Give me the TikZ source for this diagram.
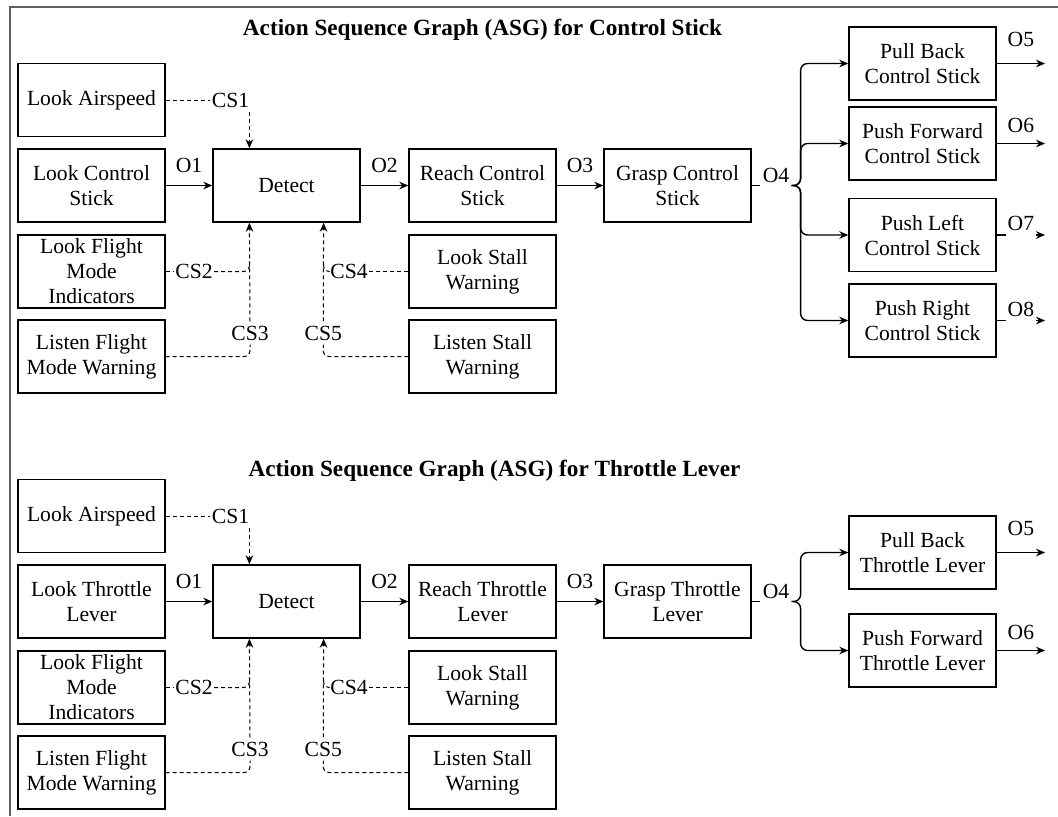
\documentclass[tikz,border=0pt]{standalone}
\usepackage{fontspec}
\setmainfont{Liberation Serif}
\usepackage{xcolor}
\definecolor{framegray}{RGB}{95,95,95}
\usetikzlibrary{arrows.meta,calc}
\tikzset{
  asgbox/.style={draw, line width=0.7pt, minimum width=73.5pt, minimum height=36.5pt,
                 inner sep=1pt, align=center, font=\fontsize{10.8}{12.5}\selectfont},
  flow/.style={-{Stealth[length=4.5pt,width=3.8pt]}, line width=0.7pt},
  cue/.style={line width=0.5pt, dash pattern=on 2pt off 1.5pt, rounded corners=3pt},
  cuetip/.style={cue, -{Stealth[length=4.5pt,width=3.8pt]}},
  lbl/.style={inner sep=1pt, font=\fontsize{10.8}{12.5}\selectfont},
  cslbl/.style={lbl, inner xsep=0.5pt, inner ysep=2pt},
  onlbl/.style={lbl, fill=white, inner xsep=1pt, inner ysep=2.5pt, yshift=5.75pt},
  asgtitle/.style={anchor=base, inner sep=0pt, font=\fontsize{11.6}{14}\selectfont\bfseries}
}

\begin{document}
\begin{tikzpicture}[x=0.5pt, y=-0.5pt]
    \useasboundingbox (0,0) rectangle (1058,816);
    % Frame
    \draw[framegray, line width=0.8pt] (10,816) -- (10,7) -- (1058,7);

    % ---------------- Control stick ----------------
    \node[asgtitle] (title1) at (482.5,35) {Action Sequence Graph (ASG) for Control Stick};
    \node[asgbox] (lookair1) at (91.5,100) {Look Airspeed};
    \node[asgbox] (lookcs1) at (91.5,185.5) {Look Control\\Stick};
    \node[asgbox] (lookfmi1) at (91.5,271.5) {Look Flight\\Mode\\Indicators};
    \node[asgbox] (listenfmw1) at (91.5,356.5) {Listen Flight\\Mode Warning};
    \node[asgbox] (detect1) at (286.5,185.5) {Detect};
    \node[asgbox] (reach1) at (482.5,185.5) {Reach Control\\Stick};
    \node[asgbox] (grasp1) at (677.5,185.5) {Grasp Control\\Stick};
    \node[asgbox] (lookstall1) at (482.5,271.5) {Look Stall\\Warning};
    \node[asgbox] (listenstall1) at (482.5,356.5) {Listen Stall\\Warning};
    \node[asgbox] (pullback1) at (922.5,63.5) {Pull Back\\Control Stick};
    \node[asgbox] (pushfwd1) at (922.5,143.5) {Push Forward\\Control Stick};
    \node[asgbox] (pushleft1) at (922.5,235) {Push Left\\Control Stick};
    \node[asgbox] (pushright1) at (922.5,320.5) {Push Right\\Control Stick};
    \coordinate (out5a) at (1045,63.5);
    \coordinate (out6a) at (1045,143.5);
    \coordinate (out7a) at (1045,235);
    \coordinate (out8a) at (1045,320.5);
    % main sequence
    \draw[flow] (lookcs1) -- node[lbl, above=5pt] {O1} (detect1);
    \draw[flow] (detect1) -- node[lbl, above=5pt] {O2} (reach1);
    \draw[flow] (reach1) -- node[lbl, above=5pt] {O3} (grasp1);
    \node[lbl] (o4a) at (776,175) {O4};
    \draw[line width=0.7pt] (grasp1.east) -- (grasp1.east -| o4a.west);
    \foreach \t in {pullback1,pushfwd1,pushleft1,pushright1}
      \draw[flow, rounded corners=3.5pt] (o4a.east |- grasp1.east) -- ++(9,0) |- (\t.west);
    \draw[flow] (pullback1.east) -- node[lbl, above=7pt] {O5} (out5a);
    \draw[flow] (pushfwd1.east) -- node[lbl, above=4pt] {O6} (out6a);
    \draw[flow] (pushleft1.east) -- node[onlbl] {O7} (out7a);
    \draw[flow] (pushright1.east) -- node[onlbl] {O8} (out8a);
    % cues into Detect
    \coordinate (dtop1) at ($(detect1.north west)!.25!(detect1.north east)$);
    \coordinate (dbotl1) at ($(detect1.south west)!.25!(detect1.south east)$);
    \coordinate (dbotr1) at ($(detect1.south west)!.75!(detect1.south east)$);
    \node[cslbl] (cs1a) at (230.5,100) {CS1};
    \node[cslbl] (cs2a) at (194,271.5) {CS2};
    \node[cslbl] (cs3a) at (250,333) {CS3};
    \node[cslbl] (cs4a) at (349,271.5) {CS4};
    \node[cslbl] (cs5a) at (323.25,333) {CS5};
    \draw[cue] (lookair1) -- (cs1a);
    \draw[cuetip] (cs1a.south -| dtop1) -- (dtop1);
    \draw[cue] (lookfmi1) -- (cs2a);
    \draw[cue] (cs2a.east) -| ($(dbotl1 |- cs2a.east)+(0,-10)$);
    \draw[cue] (listenfmw1.east) -| (cs3a.south);
    \draw[cuetip] (cs3a.north) -- (dbotl1);
    \draw[cue] (lookstall1) -- (cs4a);
    \draw[cue] (cs4a.west) -| ($(dbotr1 |- cs4a.west)+(0,-10)$);
    \draw[cue] (listenstall1.west) -| (cs5a.south);
    \draw[cuetip] (cs5a.north) -- (dbotr1);

    % ---------------- Throttle lever ----------------
    \node[asgtitle] (title2) at (494.5,476) {Action Sequence Graph (ASG) for Throttle Lever};
    \node[asgbox] (lookair2) at (91.5,516) {Look Airspeed};
    \node[asgbox] (lookthr2) at (91.5,601.5) {Look Throttle\\Lever};
    \node[asgbox] (lookfmi2) at (91.5,687.5) {Look Flight\\Mode\\Indicators};
    \node[asgbox] (listenfmw2) at (91.5,772.5) {Listen Flight\\Mode Warning};
    \node[asgbox] (detect2) at (286.5,601.5) {Detect};
    \node[asgbox] (reach2) at (482.5,601.5) {Reach Throttle\\Lever};
    \node[asgbox] (grasp2) at (677.5,601.5) {Grasp Throttle\\Lever};
    \node[asgbox] (lookstall2) at (482.5,687.5) {Look Stall\\Warning};
    \node[asgbox] (listenstall2) at (482.5,772.5) {Listen Stall\\Warning};
    \node[asgbox] (pullback2) at (922.5,552.5) {Pull Back\\Throttle Lever};
    \node[asgbox] (pushfwd2) at (922.5,650.5) {Push Forward\\Throttle Lever};
    \coordinate (out5b) at (1045,552.5);
    \coordinate (out6b) at (1045,650.5);
    % main sequence
    \draw[flow] (lookthr2) -- node[lbl, above=5pt] {O1} (detect2);
    \draw[flow] (detect2) -- node[lbl, above=5pt] {O2} (reach2);
    \draw[flow] (reach2) -- node[lbl, above=5pt] {O3} (grasp2);
    \node[lbl] (o4b) at (776,591) {O4};
    \draw[line width=0.7pt] (grasp2.east) -- (grasp2.east -| o4b.west);
    \foreach \t in {pullback2,pushfwd2}
      \draw[flow, rounded corners=3.5pt] (o4b.east |- grasp2.east) -- ++(9,0) |- (\t.west);
    \draw[flow] (pullback2.east) -- node[lbl, above=7pt] {O5} (out5b);
    \draw[flow] (pushfwd2.east) -- node[lbl, above=4pt] {O6} (out6b);
    % cues into Detect
    \coordinate (dtop2) at ($(detect2.north west)!.25!(detect2.north east)$);
    \coordinate (dbotl2) at ($(detect2.south west)!.25!(detect2.south east)$);
    \coordinate (dbotr2) at ($(detect2.south west)!.75!(detect2.south east)$);
    \node[cslbl] (cs1b) at (230.5,516) {CS1};
    \node[cslbl] (cs2b) at (194,687.5) {CS2};
    \node[cslbl] (cs3b) at (250,749) {CS3};
    \node[cslbl] (cs4b) at (349,687.5) {CS4};
    \node[cslbl] (cs5b) at (323.25,749) {CS5};
    \draw[cue] (lookair2) -- (cs1b);
    \draw[cuetip] (cs1b.south -| dtop2) -- (dtop2);
    \draw[cue] (lookfmi2) -- (cs2b);
    \draw[cue] (cs2b.east) -| ($(dbotl2 |- cs2b.east)+(0,-10)$);
    \draw[cue] (listenfmw2.east) -| (cs3b.south);
    \draw[cuetip] (cs3b.north) -- (dbotl2);
    \draw[cue] (lookstall2) -- (cs4b);
    \draw[cue] (cs4b.west) -| ($(dbotr2 |- cs4b.west)+(0,-10)$);
    \draw[cue] (listenstall2.west) -| (cs5b.south);
    \draw[cuetip] (cs5b.north) -- (dbotr2);
\end{tikzpicture}
\end{document}
